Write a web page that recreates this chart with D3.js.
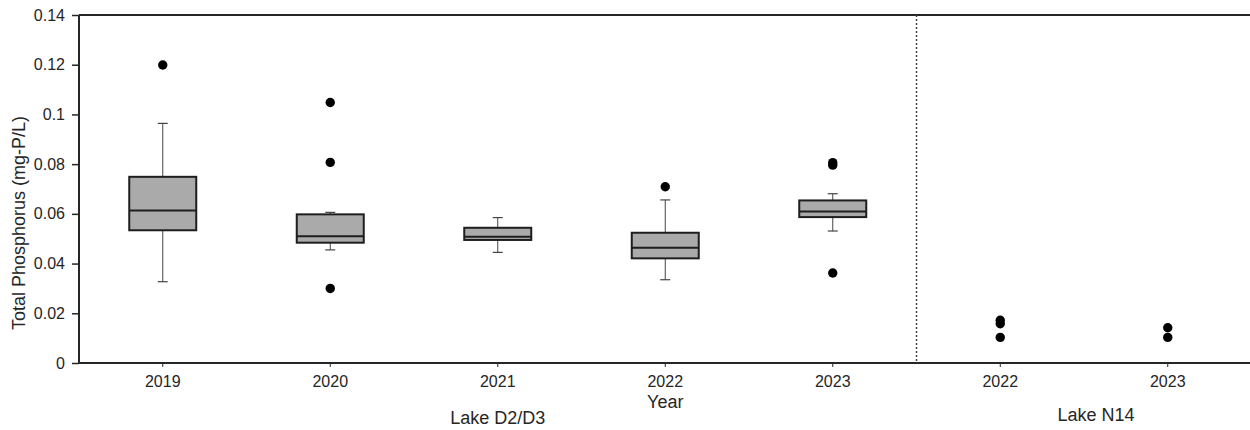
<!DOCTYPE html>
<html>
<head>
<meta charset="utf-8">
<script src="https://cdn.jsdelivr.net/npm/d3@7"></script>
<style>
  html, body { margin: 0; padding: 0; background: #fff; }
  svg { display: block; font-family: "Liberation Sans", Arial, sans-serif; }
</style>
</head>
<body>
<svg id="chart" width="1250" height="430"></svg>
<script>
// Total phosphorus by sampling year, Lake D2/D3 and Lake N14
const categories = ["2019", "2020", "2021", "2022", "2023", "2022", "2023"];
const lakes = ["Lake D2/D3", "Lake D2/D3", "Lake D2/D3", "Lake D2/D3", "Lake D2/D3", "Lake N14", "Lake N14"];
const whiskerLow  = [0.0327, 0.0455, 0.0445, 0.0335, 0.0531, null, null];
const q1          = [0.0534, 0.0484, 0.0495, 0.0421, 0.0587, null, null];
const median      = [0.0614, 0.0510, 0.0508, 0.0464, 0.0609, null, null];
const q3          = [0.0749, 0.0598, 0.0544, 0.0524, 0.0654, null, null];
const whiskerHigh = [0.0964, 0.0606, 0.0585, 0.0656, 0.0681, null, null];
const outliers = [
  [0.1199],
  [0.1048, 0.0807, 0.0300],
  [],
  [0.0709],
  [0.0806, 0.0796, 0.0362],
  [0.0172, 0.0158, 0.0103],
  [0.0142, 0.0103]
];
const yTicks = [0, 0.02, 0.04, 0.06, 0.08, 0.1, 0.12, 0.14];

const svg = d3.select("#chart");
const plotLeft = 79, plotTop = 15, plotBottom = 363, plotRight = 1251.5;

const x = d3.scaleBand().domain(d3.range(categories.length)).range([plotLeft, plotRight]).padding(0);
const y = d3.scaleLinear().domain([0, 0.14]).range([plotBottom, plotTop]);
const bw = x.bandwidth() * 0.4;
const cx = i => x(i) + x.bandwidth() / 2;

const ink = "#262626";

// Y axis
const yAxis = svg.append("g")
  .attr("transform", `translate(${plotLeft},0)`)
  .call(d3.axisLeft(y).tickValues(yTicks).tickSize(7).tickPadding(7)
    .tickFormat(d => String(+d.toFixed(2))));
yAxis.select(".domain").remove();
yAxis.selectAll(".tick line").attr("stroke", ink).attr("stroke-width", 1.5);
yAxis.selectAll(".tick text").attr("fill", ink).attr("font-size", 16)
  .attr("font-family", "Liberation Sans, Arial, sans-serif");

// X axis
const xAxis = svg.append("g")
  .attr("transform", `translate(0,${plotBottom})`)
  .call(d3.axisBottom(x).tickFormat(i => categories[i]).tickSize(4).tickPadding(9));
xAxis.select(".domain").remove();
xAxis.selectAll(".tick line").attr("stroke", ink).attr("stroke-width", 1);
xAxis.selectAll(".tick text").attr("fill", ink).attr("font-size", 16)
  .attr("font-family", "Liberation Sans, Arial, sans-serif");

// Frame: left, top and bottom lines
svg.append("path")
  .attr("d", `M${plotLeft},${plotTop}H1250M${plotLeft},${plotTop}V${plotBottom}H1250`)
  .attr("fill", "none").attr("stroke", ink).attr("stroke-width", 2);

// Divider between the two lakes
const divX = (cx(4) + cx(5)) / 2;
svg.append("line")
  .attr("x1", divX).attr("x2", divX).attr("y1", plotTop).attr("y2", plotBottom)
  .attr("stroke", "#444").attr("stroke-width", 1.5).attr("stroke-dasharray", "2,2");

// Boxes
const boxIdx = d3.range(categories.length).filter(i => q1[i] !== null);
const boxes = svg.append("g").selectAll("g").data(boxIdx).join("g");

boxes.append("line")
  .attr("x1", cx).attr("x2", cx)
  .attr("y1", i => y(whiskerHigh[i])).attr("y2", i => y(q3[i]))
  .attr("stroke", "#444").attr("stroke-width", 1);
boxes.append("line")
  .attr("x1", cx).attr("x2", cx)
  .attr("y1", i => y(q1[i])).attr("y2", i => y(whiskerLow[i]))
  .attr("stroke", "#444").attr("stroke-width", 1);
boxes.append("line")
  .attr("x1", i => cx(i) - 5).attr("x2", i => cx(i) + 5)
  .attr("y1", i => y(whiskerHigh[i])).attr("y2", i => y(whiskerHigh[i]))
  .attr("stroke", "#444").attr("stroke-width", 1.2);
boxes.append("line")
  .attr("x1", i => cx(i) - 5).attr("x2", i => cx(i) + 5)
  .attr("y1", i => y(whiskerLow[i])).attr("y2", i => y(whiskerLow[i]))
  .attr("stroke", "#444").attr("stroke-width", 1.2);
boxes.append("rect")
  .attr("x", i => cx(i) - bw / 2).attr("width", bw)
  .attr("y", i => y(q3[i])).attr("height", i => y(q1[i]) - y(q3[i]))
  .attr("fill", "#aaaaaa").attr("stroke", "#1e1e1e").attr("stroke-width", 2);
boxes.append("line")
  .attr("x1", i => cx(i) - bw / 2).attr("x2", i => cx(i) + bw / 2)
  .attr("y1", i => y(median[i])).attr("y2", i => y(median[i]))
  .attr("stroke", "#1e1e1e").attr("stroke-width", 2);

// Outlying points
const pts = outliers.flatMap((vals, i) => vals.map(v => ({ i, v })));
svg.append("g").selectAll("circle").data(pts).join("circle")
  .attr("cx", d => cx(d.i)).attr("cy", d => y(d.v)).attr("r", 4.7)
  .attr("fill", "#000");

// Axis titles
svg.append("text")
  .attr("transform", `translate(25,${(plotTop + plotBottom) / 2 + 34}) rotate(-90)`)
  .attr("text-anchor", "middle").attr("font-size", 18).attr("fill", ink)
  .text("Total Phosphorus (mg-P/L)");
svg.append("text")
  .attr("x", cx(3)).attr("y", 408).attr("text-anchor", "middle")
  .attr("font-size", 18).attr("fill", ink).text("Year");
svg.append("text")
  .attr("x", cx(2)).attr("y", 424).attr("text-anchor", "middle")
  .attr("font-size", 18).attr("fill", ink).text(lakes[0]);
svg.append("text")
  .attr("x", (cx(5) + cx(6)) / 2 + 12).attr("y", 421).attr("text-anchor", "middle")
  .attr("font-size", 18).attr("fill", ink).text(lakes[5]);
</script>
</body>
</html>
